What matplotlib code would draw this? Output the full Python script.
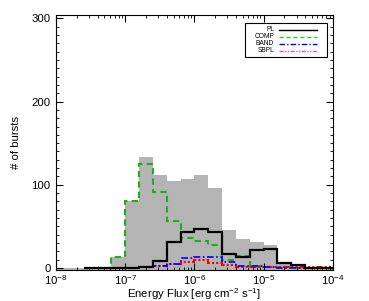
import numpy as np
import matplotlib
matplotlib.use('Agg')
from matplotlib import pyplot as plt
from matplotlib.ticker import MultipleLocator, LogLocator, NullFormatter

plt.rcParams['font.family'] = ['Liberation Sans', 'DejaVu Sans']
plt.rcParams['mathtext.fontset'] = 'custom'
plt.rcParams['mathtext.rm'] = 'Liberation Sans'

# bin edges: 0.2 decade bins from 1e-8 to 1e-4
log_edges = [-8.0, -7.8, -7.6, -7.4, -7.2, -7.0, -6.8, -6.6, -6.4, -6.2, -6.0,
             -5.8, -5.6, -5.4, -5.2, -5.0, -4.8, -4.6, -4.4, -4.2, -4.0]

# counts per bin (20 bins)
all_bursts = [0, 0, 0, 0, 13, 81, 133, 112, 105, 107, 112, 96, 45, 35, 31, 28, 7, 4, 0, 0]
pl   = [0, 0, 0, 0, 0, 0, 1, 8, 31, 43, 47, 43, 17, 13, 22, 23, 6, 3, 0, 0]
comp = [0, 0, 0, 0, 13, 80, 125, 91, 57, 36, 32, 27, 10, 14, 2, 1, 1, 0, 0, 0]
band = [0, 0, 0, 0, 0, 0, 1, 2, 5, 12, 13, 13, 7, 2, 2, 1, 0, 0, 0, 0]
sbpl = [0, 0, 0, 0, 0, 0, 1, 2, 5, 7, 9, 6, 3, 1, 1, 1, 1, 1, 1, 1]

edges = 10.0 ** np.array(log_edges)
ymin, ymax = -2.5, 304


def steps(ax, counts, i0, i1, **kw):
    # step outline over bins i0..i1-1
    ax.stairs(counts[i0:i1], edges[i0:i1 + 1], baseline=None, **kw)


fig = plt.figure(figsize=(3.69, 3.01), dpi=100)
ax = fig.add_axes([0.152, 0.103, 0.750, 0.847])

ax.stairs(all_bursts, edges, baseline=ymin, fill=True, color='#b4b4b4', lw=0)
steps(ax, comp, 2, 18, color='#22aa22', lw=1.5, linestyle=(0, (3, 2)))
steps(ax, sbpl, 3, 20, color='red', lw=1.5, linestyle=(0, (3, 1, 1, 1, 1, 1)))
steps(ax, band, 3, 18, color='blue', lw=1.2, linestyle=(0, (4, 1.5, 1, 1.5)))
steps(ax, pl, 2, 20, color='black', lw=1.6)

ax.set_xscale('log')
ax.set_xlim(1e-8, 1e-4)
ax.set_ylim(ymin, ymax)
ax.set_xticks([1e-8, 1e-7, 1e-6, 1e-5, 1e-4])
ax.set_xticklabels(['10$^{-8}$', '10$^{-7}$', '10$^{-6}$', '10$^{-5}$', '10$^{-4}$'])
ax.xaxis.set_minor_locator(LogLocator(base=10, subs=np.arange(2, 10)))
ax.xaxis.set_minor_formatter(NullFormatter())
ax.set_yticks([0, 100, 200, 300])
ax.yaxis.set_minor_locator(MultipleLocator(10))
ax.tick_params(which='both', direction='in', top=True, right=True, labelsize=8.2)
ax.tick_params(axis='x', pad=2)
ax.tick_params(axis='y', pad=4)
ax.tick_params(which='major', length=5, width=0.8)
ax.tick_params(which='minor', length=2.5, width=0.6)
for s in ax.spines.values():
    s.set_linewidth(0.8)

ax.set_xlabel('Energy Flux [erg cm$^{-2}$ s$^{-1}$]', fontsize=8.2, va='baseline')
ax.xaxis.set_label_coords(0.5, -0.108)
ax.set_ylabel('# of bursts', fontsize=8.2)
ax.yaxis.set_label_coords(-0.125, 0.5)

# legend box drawn in axes coordinates (labels right-aligned, line after)
ax.add_patch(plt.Rectangle((0.682, 0.835), 0.296, 0.134, transform=ax.transAxes,
                           facecolor='white', edgecolor='black', lw=0.8, zorder=5))
legend_items = [('PL', 'black', '-'),
                ('COMP', '#22cc22', (0, (3, 2))),
                ('BAND', 'blue', (0, (4, 1.5, 1, 1.5))),
                ('SBPL', '#ff44cc', (0, (3, 1, 1, 1, 1, 1)))]
row_y = [0.943, 0.915, 0.887, 0.859]
for (lab, col, ls), yy in zip(legend_items, row_y):
    ax.text(0.788, yy, lab, transform=ax.transAxes, ha='right', va='center',
            fontsize=4.8, zorder=6)
    ax.plot([0.807, 0.942], [yy, yy], transform=ax.transAxes, color=col,
            linestyle=ls, lw=1.0, zorder=6)

fig.savefig('out.png', dpi=100)
